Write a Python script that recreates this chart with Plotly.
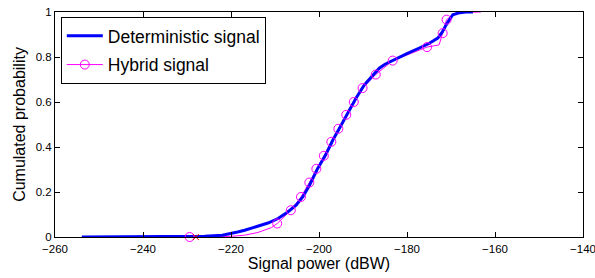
import plotly.graph_objects as go

# Deterministic signal CDF
blue_x = [-253.9, -235, -228, -226, -222, -220, -218.5, -216.9, -215.5, -213.9, -211.6, -209.3,
          -207.1, -205.2, -203.7, -202.15, -200.3, -198.5, -196.85, -195.35, -193.5, -191.6,
          -189.7, -187.4, -186.3, -185, -183.5, -182, -180, -177.2, -175, -173, -172, -171.1,
          -170.3, -169.6, -168, -166.6, -165]
blue_y = [0, 0, 0.001, 0.003, 0.008, 0.015, 0.022, 0.03, 0.039, 0.049, 0.062, 0.082,
          0.111, 0.141, 0.178, 0.23, 0.305, 0.364, 0.431, 0.483, 0.55, 0.617,
          0.676, 0.728, 0.75, 0.768, 0.783, 0.797, 0.815, 0.84, 0.86, 0.884, 0.91, 0.943,
          0.97, 0.988, 0.997, 1.0, 1.0]

# Hybrid signal CDF (line)
hyb_line_x = [-229.4, -225, -220, -216.9, -213.9, -210.8, -209.5, -206.4, -204.1, -202.2,
              -200.6, -198.9, -197.2, -195.6, -193.8, -192.1, -190.1, -187.1, -183.25,
              -175.45, -172.7, -171.9, -171.0, -169.5, -167, -163.2]
hyb_line_y = [0, 0.001, 0.003, 0.008, 0.02, 0.042, 0.06, 0.119, 0.178, 0.242,
              0.303, 0.361, 0.423, 0.481, 0.543, 0.60, 0.662, 0.722, 0.784,
              0.844, 0.854, 0.906, 0.966, 0.99, 0.998, 1.0]

# Hybrid signal markers
hyb_mark_x = [-229.4, -209.5, -206.4, -204.1, -202.2, -200.6, -198.9, -197.2, -195.6,
              -193.8, -192.1, -190.1, -187.1, -183.25, -175.45, -171.9, -171.0]
hyb_mark_y = [0, 0.06, 0.119, 0.178, 0.242, 0.303, 0.361, 0.423, 0.481,
              0.543, 0.60, 0.662, 0.722, 0.784, 0.844, 0.906, 0.966]

cross_x = [-228.0]
cross_y = [0]

x_ticks = [-260, -240, -220, -200, -180, -160, -140]
y_ticks = [0, 0.2, 0.4, 0.6, 0.8, 1]
y_tick_text = ["0", "0.2", "0.4", "0.6", "0.8", "1"]

BLUE = "#0000FF"
MAG = "#FF00FF"
FONT = "Liberation Sans, Arial, sans-serif"

fig = go.Figure()
fig.add_trace(go.Scatter(x=hyb_line_x, y=hyb_line_y, mode="lines",
                         line=dict(color=MAG, width=1), showlegend=False))
fig.add_trace(go.Scatter(x=blue_x, y=blue_y, mode="lines", name="Deterministic signal",
                         legendgroup="a",
                         line=dict(color=BLUE, width=3), cliponaxis=False))
fig.add_trace(go.Scatter(x=hyb_mark_x, y=hyb_mark_y, mode="markers", showlegend=False,
                         marker=dict(symbol="circle-open", size=9, color=MAG,
                                     line=dict(width=1, color=MAG)),
                         cliponaxis=False))
fig.add_trace(go.Scatter(x=cross_x, y=cross_y, mode="markers", showlegend=False,
                         marker=dict(symbol="x-thin-open", size=6, color="red",
                                     line=dict(width=1, color="red")),
                         cliponaxis=False))
fig.add_trace(go.Scatter(x=[None], y=[None], mode="lines+markers", name="Hybrid signal",
                         legendgroup="b",
                         line=dict(color=MAG, width=1),
                         marker=dict(symbol="circle-open", size=9, color=MAG,
                                     line=dict(width=1, color=MAG))))

axis_common = dict(showline=True, linecolor="black", linewidth=1, mirror="ticks",
                   ticks="inside", ticklen=5, tickcolor="black", showgrid=False,
                   zeroline=False, automargin=False, ticklabeloverflow="allow",
                   tickfont=dict(family=FONT, size=11.5, color="black"))

fig.update_layout(
    width=595, height=278,
    margin=dict(l=55, r=12, t=12, b=41),
    plot_bgcolor="white", paper_bgcolor="white",
    font=dict(family=FONT, color="black"),
    xaxis=dict(range=[-260, -140], tickvals=x_ticks, ticklabelstandoff=1,
               title=dict(text="Signal power (dBW)", font=dict(size=16, family=FONT),
                          standoff=2),
               **axis_common),
    yaxis=dict(range=[0, 1], tickvals=y_ticks, ticktext=y_tick_text,
               title=dict(text="Cumulated probability", font=dict(size=16, family=FONT),
                          standoff=6),
               **axis_common),
    legend=dict(x=0.011, y=0.978, xanchor="left", yanchor="top",
                bgcolor="white", bordercolor="black", borderwidth=1,
                font=dict(size=17.5, color="black", family=FONT), tracegroupgap=3,
                itemwidth=36),
)

fig.write_html("out.html", config={"displayModeBar": False},
               post_script="document.body.style.margin='0';document.body.style.padding='0';")
